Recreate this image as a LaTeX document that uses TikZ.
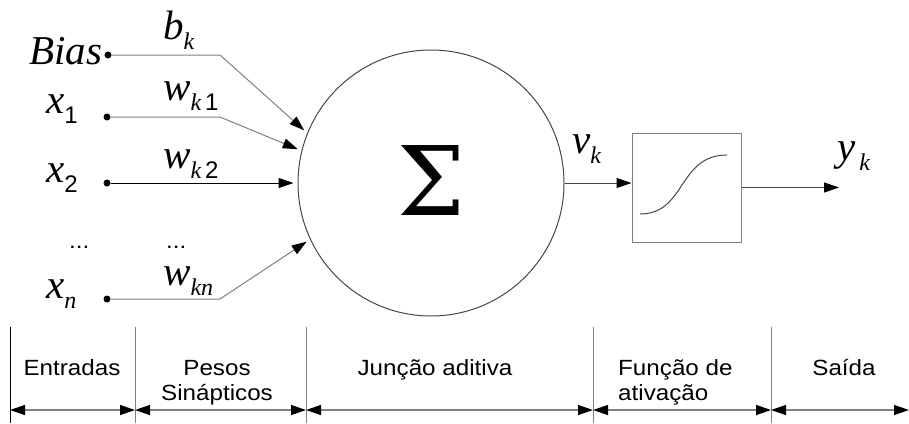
\documentclass[tikz,border=0pt]{standalone}
\usepackage{fontspec}
\setmainfont{Liberation Serif}
\newfontfamily\lblf[FakeStretch=1.1]{Liberation Sans}
\newfontfamily\digf{Liberation Sans}
\newfontfamily\sigf{DejaVu Serif}
\usetikzlibrary{arrows.meta}
\definecolor{gline}{RGB}{128,128,128}
\definecolor{cline}{RGB}{70,70,70}
\newcommand\sbx[1]{\raisebox{-10pt}{\fontsize{24}{24}\selectfont #1}}
\newcommand\mif{\fontsize{41}{41}\selectfont\itshape}
\begin{document}
\begin{tikzpicture}[x=1pt,y=-1pt,
  dot/.style={circle, fill=black, inner sep=0pt, minimum size=7pt},
  feed/.style={draw=gline, line width=1pt, shorten >=4pt, -{Triangle[length=15pt,width=10pt,black]}},
  span/.style={draw=gline, line width=1.3pt, {Triangle[length=15pt,width=10pt,black]}-{Triangle[length=15pt,width=10pt,black]}},
  mlab/.style={inner sep=0pt, anchor=base west, font=\mif},
  lab/.style={inner sep=0pt, anchor=base, font=\lblf\fontsize{22}{25}\selectfont},
  sep/.style={draw=gline, line width=1pt}
]
\useasboundingbox (0,0) rectangle (909,423);

% inputs
\coordinate (c0) at (220,55);
\coordinate (c1) at (220,117);
\coordinate (cn) at (220,299);
\node[dot] (d0) at (108,55) {};
\node[dot] (d1) at (107,117) {};
\node[dot] (d2) at (107,183) {};
\node[dot] (dn) at (107,299) {};

% summing junction
\node[circle, draw=cline, line width=1pt, minimum size=266pt, inner sep=0pt] (sum) at (431,183) {};
\node[inner sep=0pt, font=\sigf\fontsize{96}{96}\selectfont] (sigma) at (431,181) {Σ};

\draw[feed] (d0) -- (c0) -- (sum.158);
\draw[feed] (d1) -- (c1) -- (sum.166.5);
\draw[feed, draw=black] (d2) -- (sum.west);
\draw[feed] (dn) -- (cn) -- (sum.205.5);

% labels of inputs
\node[mlab] (lbias) at (29,64) {Bias};
\node[mlab] (lx1) at (46,113) {x\sbx{\upshape\digf 1}};
\node[mlab] (lx2) at (46,182) {x\sbx{\upshape\digf 2}};
\node[mlab] (lxn) at (46,298) {x\sbx{n}};
\node[inner sep=0pt, anchor=base west, font=\lblf\fontsize{22}{22}\selectfont] (dots1) at (69,248) {...};
\node[inner sep=0pt, anchor=base west, font=\lblf\fontsize{22}{22}\selectfont] (dots2) at (166,248) {...};
\node[mlab] (lbk) at (163,39) {b\sbx{k}};
\node[mlab] (lw1) at (163,100) {w\sbx{k\,\upshape\digf 1}};
\node[mlab] (lw2) at (163,168) {w\sbx{k\,\upshape\digf 2}};
\node[mlab] (lwn) at (163,285) {w\sbx{kn}};

% activation
\node[draw=gline, line width=1pt, minimum width=109pt, minimum height=109pt, inner sep=0pt] (act) at (686.5,187.5) {};
\draw[line width=1pt, cline] (640,214) .. controls (686,214) and (678,155) .. (727,155);
\draw[draw=cline, line width=1pt, -{Triangle[length=15pt,width=10pt,black]}] (sum.east) -- (sum.east -| act.west);
\coordinate (yout) at (839,187.5);
\draw[draw=cline, line width=1pt, -{Triangle[length=15pt,width=10pt,black]}] (act.east) -- (yout);
\node[mlab] (lvk) at (572,153) {v\sbx{k}};
\node[mlab] (lyk) at (837,160) {y\sbx{\,k}};

% bottom scale
\draw[line width=1pt, black] (10,327) -- (10,423);
\draw[sep] (135,327) -- (135,423);
\draw[sep] (306,327) -- (306,423);
\draw[sep] (593,327) -- (593,423);
\draw[sep] (771,327) -- (771,423);
\coordinate (s0) at (10,410);
\coordinate (s1) at (135,410);
\coordinate (s2) at (306,410);
\coordinate (s3) at (593,410);
\coordinate (s4) at (771,410);
\coordinate (s5) at (909,410);
\draw[span] (s0) -- (s1);
\draw[span] (s1) -- (s2);
\draw[span] (s2) -- (s3);
\draw[span] (s3) -- (s4);
\draw[span] (s4) -- (s5);

\node[lab] (tin) at (72,375) {Entradas};
\node[lab] (tpes) at (217,375) {Pesos};
\node[lab] (tsin) at (217,400) {Sinápticos};
\node[lab] (tjun) at (435,375) {Junção aditiva};
\node[lab, anchor=base west] (tfun) at (618,375) {Função de};
\node[lab, anchor=base west] (tati) at (618,400) {ativação};
\node[lab] (tsai) at (844,375) {Saída};
\end{tikzpicture}
\end{document}
